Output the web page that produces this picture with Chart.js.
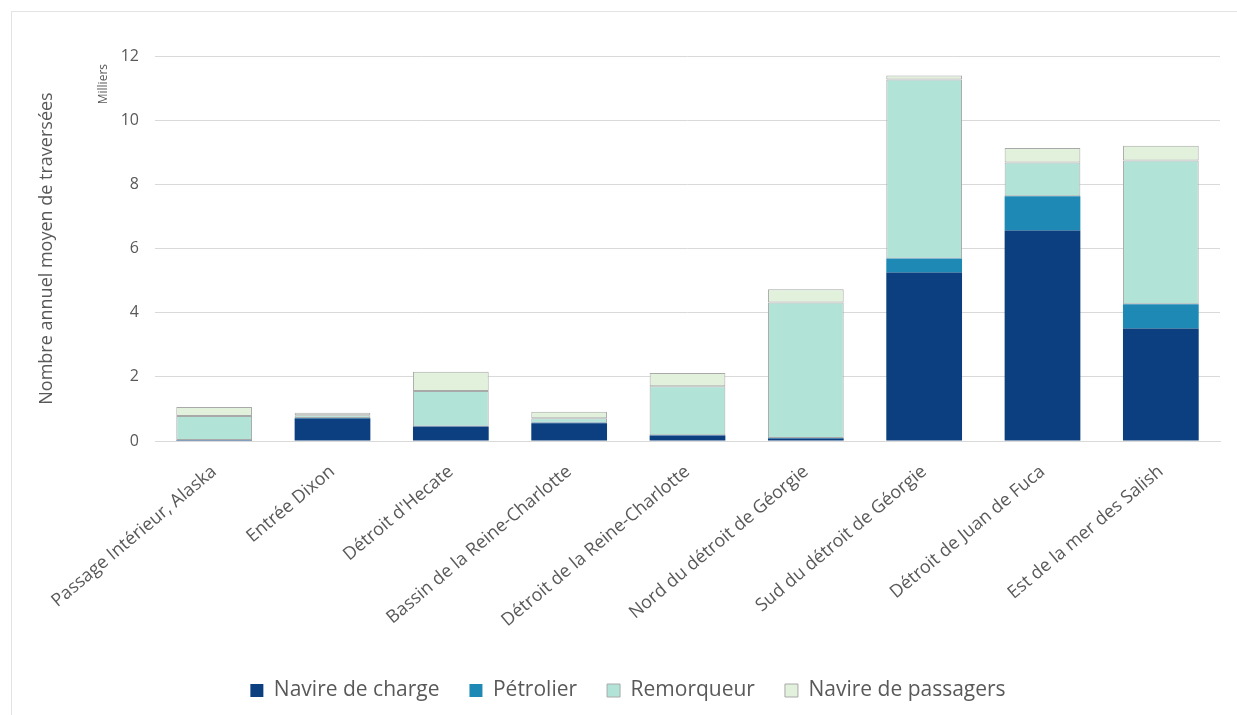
<!DOCTYPE html>
<html lang="fr">
<head>
<meta charset="utf-8">
<title>Traversées annuelles moyennes par zone</title>
<script src="https://cdn.jsdelivr.net/npm/chart.js@4"></script>
<style>
  html, body { margin: 0; padding: 0; background: #fff; }
  #frame {
    position: absolute; left: 11px; top: 11px; width: 1240px; height: 720px;
    border: 1px solid #e3e3e3; box-sizing: border-box;
  }
  #wrap { position: absolute; left: 0; top: 0; width: 1237px; height: 715px; }
</style>
</head>
<body>
<div id="frame"></div>
<div id="wrap"><canvas id="chart"></canvas></div>
<script>
"use strict";

// ── 데이터 (milliers de traversées) ─────────────────────────────
const CATEGORIES = [
  "Passage Intérieur, Alaska",
  "Entrée Dixon",
  "Détroit d'Hecate",
  "Bassin de la Reine-Charlotte",
  "Détroit de la Reine-Charlotte",
  "Nord du détroit de Géorgie",
  "Sud du détroit de Géorgie",
  "Détroit de Juan de Fuca",
  "Est de la mer des Salish",
];
const NAVIRE_CHARGE = [0.03, 0.70, 0.45, 0.55, 0.17, 0.08, 5.25, 6.56, 3.51];
const PETROLIER = [0.00, 0.02, 0.00, 0.02, 0.01, 0.01, 0.44, 1.07, 0.75];
const REMORQUEUR = [0.75, 0.08, 1.11, 0.14, 1.53, 4.23, 5.58, 1.05, 4.48];
const PASSAGERS = [0.28, 0.08, 0.60, 0.20, 0.41, 0.41, 0.12, 0.45, 0.46];
const Y_TICKS = [0, 2, 4, 6, 8, 10, 12];

const INK = "#595959";
const FONT = "'Open Sans', Lato, sans-serif";
const LEFT_PAD = 36; // décale la légende vers la droite (centrage du cadre)

// "Milliers" au-dessus de l'axe vertical
const unitLabel = {
  id: "unitLabel",
  afterDraw(chart) {
    const { ctx, chartArea } = chart;
    ctx.save();
    ctx.translate(104, chartArea.top + 8);
    ctx.rotate(-Math.PI / 2);
    ctx.fillStyle = INK;
    ctx.font = `12px ${FONT}`;
    ctx.textAlign = "right";
    ctx.textBaseline = "middle";
    ctx.fillText("Milliers", 0, 0);
    ctx.restore();
  },
};

const ds = (label, data, color, border) => ({
  label,
  data,
  backgroundColor: color,
  borderColor: border || color,
  borderWidth: border ? 1 : 0,
  borderSkipped: false,
  barPercentage: 0.64,
  categoryPercentage: 1,
});

new Chart(document.getElementById("chart"), {
  type: "bar",
  data: {
    labels: CATEGORIES,
    datasets: [
      ds("Navire de charge", NAVIRE_CHARGE, "#0b3f7f"),
      ds("Pétrolier", PETROLIER, "#1f89b6"),
      ds("Remorqueur", REMORQUEUR, "#b2e3d7", "#a9a9a9"),
      ds("Navire de passagers", PASSAGERS, "#e1f1dc", "#a9a9a9"),
    ],
  },
  options: {
    responsive: true,
    maintainAspectRatio: false,
    animation: false,
    layout: { padding: { top: 56, right: 17, bottom: 4, left: LEFT_PAD } },
    plugins: {
      legend: {
        position: "bottom",
        labels: {
          color: INK,
          font: { family: FONT, size: 21 },
          boxWidth: 13, boxHeight: 13,
          padding: 30,
        },
      },
      tooltip: { enabled: false },
    },
    scales: {
      x: {
        stacked: true,
        afterFit: (s) => { s.height = 209; },
        grid: { display: false },
        border: { color: "#d9d9d9" },
        ticks: {
          color: INK,
          font: { family: FONT, size: 18 },
          minRotation: 40, maxRotation: 40,
          padding: 12,
        },
      },
      y: {
        stacked: true,
        min: 0, max: 12,
        afterBuildTicks: (s) => { s.ticks = Y_TICKS.map((v) => ({ value: v })); },
        afterFit: (s) => { s.width = 155 - LEFT_PAD; },
        grid: { color: "#d9d9d9", drawTicks: false },
        border: { display: false },
        ticks: {
          color: INK,
          font: { family: FONT, size: 16 },
          padding: 16,
        },
        title: {
          display: true,
          text: "Nombre annuel moyen de traversées",
          color: INK,
          font: { family: FONT, size: 18 },
          padding: { top: 0, bottom: 0 },
        },
      },
    },
  },
  plugins: [unitLabel],
});
</script>
</body>
</html>
